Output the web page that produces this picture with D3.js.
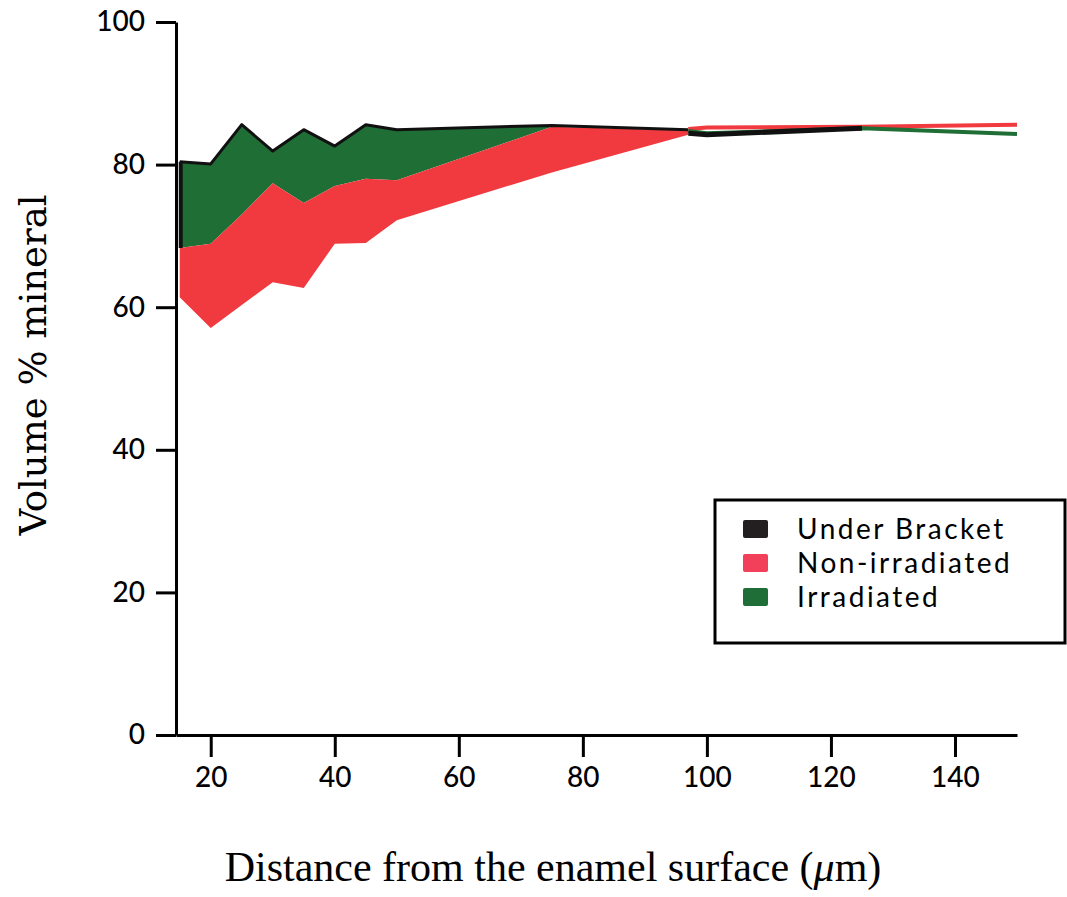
<!DOCTYPE html>
<html>
<head>
<meta charset="utf-8">
<script src="https://cdn.jsdelivr.net/npm/d3@7"></script>
<style>
  html, body { margin: 0; padding: 0; background: #fff; }
  svg { display: block; }
</style>
</head>
<body>
<svg id="chart" width="1067" height="897"></svg>
<script>
// ---- Data ----
const distance = [15, 20, 25, 30, 35, 40, 45, 50, 75, 97];
const irradiatedUpper = [80.4, 80.1, 85.6, 81.9, 84.9, 82.6, 85.6, 84.9, 85.5, 84.9];
const irradiatedLower = [68.3, 68.9, 73.0, 77.4, 74.6, 77.0, 78.0, 77.8, 85.3, 84.9];
const nonIrrUpper     = [68.3, 68.9, 73.0, 77.4, 74.6, 77.0, 78.0, 77.8, 85.3, 84.8];
const nonIrrLower     = [61.4, 57.1, 60.3, 63.5, 62.7, 68.9, 69.0, 72.2, 78.9, 84.2];
const underBracketTop = [80.4, 80.1, 85.6, 81.9, 84.9, 82.6, 85.6, 84.9, 85.5, 84.9];

const distanceDeep = [97, 100, 125, 150];
const nonIrrDeep       = [85.0, 85.2, 85.3, 85.6];
const irradiatedDeep   = [84.7, 84.4, 85.1, 84.3];
const underBracketDeep = [84.4, 84.2, 85.1, null];

const xTicks = [20, 40, 60, 80, 100, 120, 140];
const yTicks = [0, 20, 40, 60, 80, 100];

const legendLabels = ["Under Bracket", "Non-irradiated", "Irradiated"];
const legendColors = ["#231f20", "#f23f5a", "#1f6e38"];

const GREEN = "#1f6e36";
const RED = "#f13a3f";
const BLACK = "#111";

// ---- Scales ----
const svg = d3.select("#chart");
const x = d3.scaleLinear().domain([14.4, 150]).range([176, 1017]);
const y = d3.scaleLinear().domain([0, 100]).range([735, 22]);

// ---- Bands ----
const idx = d3.range(distance.length);
const areaGen = (up, lo) => d3.area()
  .x(i => x(distance[i]))
  .y0(i => y(lo[i]))
  .y1(i => y(up[i]));

svg.append("path").datum(idx)
  .attr("d", areaGen(irradiatedUpper, irradiatedLower))
  .attr("fill", GREEN);
svg.append("path").datum(idx)
  .attr("d", areaGen(nonIrrUpper, nonIrrLower))
  .attr("fill", RED);

// black outline (Under Bracket) on top of the bands
svg.append("path").datum(idx)
  .attr("d", d3.line().x(i => x(distance[i])).y(i => y(underBracketTop[i])))
  .attr("fill", "none").attr("stroke", BLACK).attr("stroke-width", 3)
  .attr("stroke-linejoin", "round");
svg.append("line")
  .attr("x1", x(distance[0]) + 1).attr("x2", x(distance[0]) + 1)
  .attr("y1", y(underBracketTop[0])).attr("y2", y(irradiatedLower[0]))
  .attr("stroke", BLACK).attr("stroke-width", 4);

// deep region lines
const idx2 = d3.range(distanceDeep.length);
const lineDeep = vals => d3.line()
  .defined(i => vals[i] != null)
  .x(i => x(distanceDeep[i])).y(i => y(vals[i]));

svg.append("path").datum(idx2).attr("d", lineDeep(nonIrrDeep))
  .attr("fill", "none").attr("stroke", RED).attr("stroke-width", 4);
svg.append("path").datum(idx2).attr("d", lineDeep(irradiatedDeep))
  .attr("fill", "none").attr("stroke", GREEN).attr("stroke-width", 4);
svg.append("path").datum(idx2).attr("d", lineDeep(underBracketDeep))
  .attr("fill", "none").attr("stroke", BLACK).attr("stroke-width", 5);

// ---- Axes ----
const tickFont = "Lato, 'Open Sans', sans-serif";
const yAxis = svg.append("g").attr("transform", "translate(176,0)")
  .call(d3.axisLeft(y).tickValues(yTicks).tickSize(20).tickSizeOuter(0).tickPadding(11));
const xAxis = svg.append("g").attr("transform", "translate(0,735)")
  .call(d3.axisBottom(x).tickValues(xTicks).tickSize(22).tickSizeOuter(0).tickPadding(10));

[yAxis, xAxis].forEach(g => {
  g.select(".domain").attr("stroke", "#000").attr("stroke-width", 3);
  g.selectAll(".tick line").attr("stroke", "#000").attr("stroke-width", 3);
  g.selectAll(".tick text").attr("fill", "#000")
    .style("font-family", tickFont).style("font-size", "28px").style("font-weight", "500");
});

// ---- Titles ----
svg.append("text")
  .attr("transform", "translate(46,365) rotate(-90)")
  .attr("text-anchor", "middle")
  .style("font-family", "'DejaVu Serif', serif")
  .style("font-size", "37px")
  .text("Volume % mineral");

const xt = svg.append("text")
  .attr("x", 553).attr("y", 881)
  .attr("text-anchor", "middle")
  .style("font-family", "'Liberation Serif', 'Times New Roman', serif")
  .style("font-size", "42px");
xt.append("tspan").text("Distance from the enamel surface (");
xt.append("tspan").style("font-style", "italic").text("μ");
xt.append("tspan").text("m)");

// ---- Legend ----
const lg = svg.append("g");
lg.append("rect")
  .attr("x", 715).attr("y", 500).attr("width", 350).attr("height", 143)
  .attr("fill", "#fff").attr("stroke", "#000").attr("stroke-width", 3);
legendLabels.forEach((lab, i) => {
  const cy = 529 + i * 34;
  lg.append("rect").attr("x", 743).attr("y", cy - 9).attr("width", 25).attr("height", 18)
    .attr("rx", 2).attr("fill", legendColors[i]);
  lg.append("text").attr("x", 797).attr("y", cy + 10)
    .style("font-family", tickFont).style("font-size", "28px").style("letter-spacing", "2.5px")
    .attr("fill", "#000")
    .text(lab);
});
</script>
</body>
</html>
